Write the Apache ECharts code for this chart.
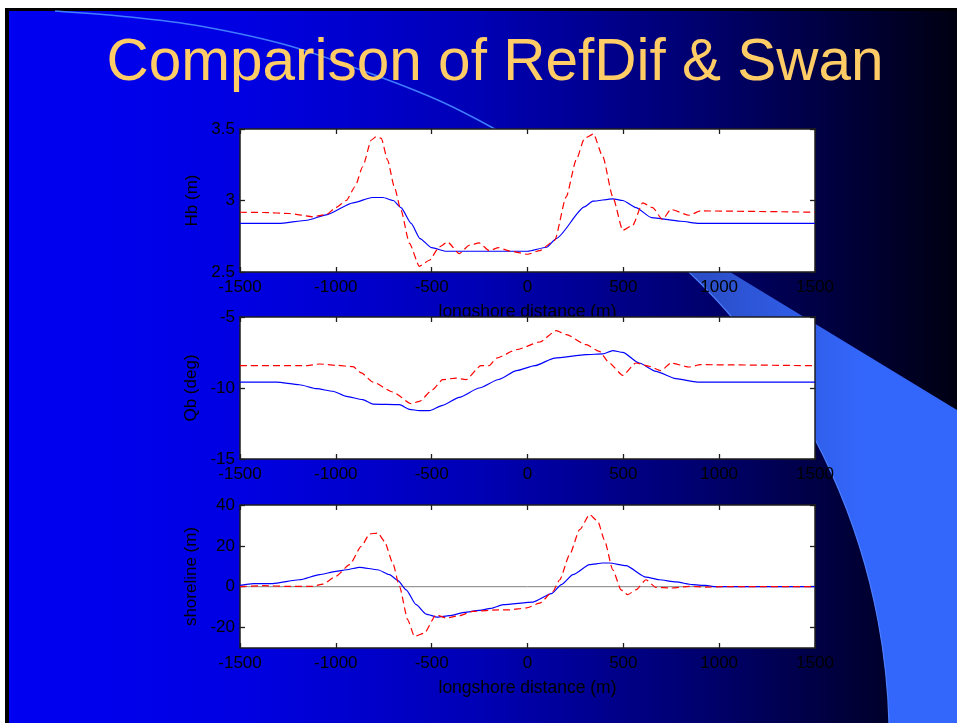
<!DOCTYPE html>
<html>
<head>
<meta charset="utf-8">
<script src="https://cdn.jsdelivr.net/npm/echarts@6/dist/echarts.min.js"></script>
<style>
html,body{margin:0;padding:0;background:#fff;}
#chart{width:957px;height:723px;}
</style>
</head>
<body>
<div id="chart"></div>
<script>
// ---- data ----
const titleText = 'Comparison of RefDif & Swan';
const xTicks = [-1500, -1000, -500, 0, 500, 1000, 1500];
const xLabel = 'longshore distance (m)';
const yNames = ['Hb (m)', 'Qb (deg)', 'shoreline (m)'];

// Hb (m)
const hbSwanX = [-1500, -1300, -1150, -1050, -910, -810, -755, -700, -660, -607, -561, -500, -425, 0, 100, 150, 297, 341, 445, 497, 566, 647, 799, 894, 1500];
const hbSwanY = [2.84, 2.84, 2.862, 2.90, 2.984, 3.021, 3.021, 3.0, 2.95, 2.84, 2.734, 2.67, 2.645, 2.645, 2.673, 2.734, 2.955, 2.995, 3.012, 3.0, 2.95, 2.88, 2.855, 2.84, 2.84];
const hbRefX = [-1500, -1380, -1240, -1120, -1050, -1000, -945, -900, -860, -815, -790, -763, -730, -695, -660, -616, -564, -512, -460, -417, -356, -304, -252, -200, -150, -92, 0, 64, 142, 202, 254, 297, 344, 393, 445, 497, 549, 601, 653, 704, 748, 843, 903, 1500];
const hbRefY = [2.918, 2.916, 2.909, 2.886, 2.902, 2.95, 3.0, 3.096, 3.236, 3.423, 3.446, 3.435, 3.283, 3.096, 2.932, 2.70, 2.54, 2.582, 2.675, 2.71, 2.628, 2.687, 2.703, 2.65, 2.67, 2.647, 2.624, 2.65, 2.722, 3.026, 3.283, 3.435, 3.465, 3.306, 3.026, 2.792, 2.827, 2.984, 2.95, 2.867, 2.937, 2.897, 2.927, 2.918];

// Qb (deg)
const qbSwanX = [-1500, -1310, -1190, -1100, -1015, -945, -860, -807, -668, -616, -564, -512, -443, -356, -252, -150, -57, 38, 142, 306, 393, 445, 497, 583, 670, 774, 886, 1500];
const qbSwanY = [-9.58, -9.58, -9.77, -10.05, -10.23, -10.59, -10.82, -11.13, -11.17, -11.5, -11.6, -11.6, -11.22, -10.66, -10.0, -9.4, -8.78, -8.43, -7.89, -7.65, -7.6, -7.37, -7.49, -8.24, -8.83, -9.34, -9.58, -9.58];
const qbRefX = [-1500, -1150, -1085, -1000, -910, -867, -807, -703, -607, -564, -495, -443, -373, -321, -243, -200, -161, -57, 64, 150, 202, 306, 375, 427, 497, 566, 635, 696, 748, 843, 903, 1500];
const qbRefY = [-8.43, -8.43, -8.31, -8.40, -8.5, -8.94, -9.58, -10.28, -11.1, -10.94, -10.12, -9.41, -9.3, -9.41, -8.43, -8.43, -7.89, -7.3, -6.76, -5.96, -6.24, -6.95, -7.42, -8.24, -9.11, -8.24, -8.47, -8.78, -8.24, -8.52, -8.36, -8.43];

// shoreline (m)
const shSwanX = [-1500, -1430, -1330, -1190, -1085, -1000, -945, -876, -781, -720, -677, -633, -581, -529, -469, -408, -330, -252, -190, -126, 29, 125, 177, 237, 324, 393, 427, 514, 618, 687, 774, 860, 929, 981, 1500];
const shSwanY = [0.65, 1.5, 1.5, 3.4, 5.9, 7.5, 8.3, 9.5, 8.3, 5.9, 3.1, -1.5, -8.8, -13.4, -14.9, -14.2, -12.6, -11.6, -10.6, -8.8, -7.5, -3.4, 1.0, 5.9, 10.8, 11.6, 11.6, 10.3, 4.7, 3.4, 2.4, 1.0, 0.65, 0, 0];
const shRefX = [-1500, -1380, -1260, -1120, -1067, -1000, -928, -867, -824, -781, -746, -703, -668, -625, -590, -538, -477, -425, -356, -287, -150, -92, -5, 64, 133, 168, 220, 272, 324, 367, 401, 445, 488, 523, 566, 618, 670, 748, 843, 929, 1016, 1500];
const shRefY = [0, 0.5, 0.2, 0.2, 1.3, 5.1, 10.8, 19.8, 25.8, 26.3, 22.2, 11.6, 0.2, -16.2, -24.3, -22.7, -13.7, -15.3, -14.2, -12.1, -11.3, -11.3, -10.4, -8.0, -2.3, 3.4, 15.7, 27.9, 35.3, 32.0, 23.0, 8.3, -1.5, -3.9, -1.5, 3.4, -0.3, -0.65, 0.2, -0.2, 0, 0];

const yRanges = [[2.5, 3.5], [-15, -5], [-30, 40]];
const yTickSets = [[2.5, 3, 3.5], [-15, -10, -5], [-20, 0, 20, 40]];
const zeroLineX = [-1500, 1500];
const zeroLineY = [0, 0];

// ---- chart ----
function pairs(xs, ys) { return xs.map((x, i) => [x, ys[i]]); }
const FONT = '"Liberation Sans", Arial, sans-serif';
const frameColor = '#1e1e1e';
const gridTops = [129, 317, 505];
const gridHeights = [143, 142, 143];
const plain = v => String(v);

const grids = [], xAxes = [], yAxes = [];
for (let i = 0; i < 3; i++) {
  grids.push({left: 240, top: gridTops[i], width: 575, height: gridHeights[i], show: true,
    backgroundColor: '#ffffff', borderWidth: 0, z: 1 + 2 * i});
  const az = 2 + 2 * i;
  const tick = {show: true, inside: true, length: 5, lineStyle: {color: frameColor, width: 1.3}, customValues: xTicks};
  const line = {show: true, onZero: false, lineStyle: {color: frameColor, width: 1.5}};
  xAxes.push({type: 'value', gridIndex: i, position: 'bottom', min: -1500, max: 1500, interval: 500, z: az,
    axisLine: line, axisTick: tick,
    axisLabel: {show: true, margin: 7, color: '#000', fontSize: 17, fontFamily: FONT, customValues: xTicks, formatter: plain},
    splitLine: {show: false},
    name: (i === 1) ? '' : xLabel, nameLocation: 'middle', nameGap: 31,
    nameTextStyle: {color: '#000', fontSize: 17.5, fontFamily: FONT}});
  xAxes.push({type: 'value', gridIndex: i, position: 'top', min: -1500, max: 1500, interval: 500, z: az,
    axisLine: line, axisTick: tick, axisLabel: {show: false}, splitLine: {show: false}});
  const ytick = {show: true, inside: true, length: 5, lineStyle: {color: frameColor, width: 1.3}, customValues: yTickSets[i]};
  yAxes.push({type: 'value', gridIndex: i, position: 'left', min: yRanges[i][0], max: yRanges[i][1], z: az,
    axisLine: line, axisTick: ytick,
    axisLabel: {show: true, margin: 5, color: '#000', fontSize: 17, fontFamily: FONT, customValues: yTickSets[i], formatter: plain},
    splitLine: {show: false},
    name: yNames[i], nameLocation: 'middle', nameGap: 37,
    nameTextStyle: {color: '#000', fontSize: 17, fontFamily: FONT}});
  yAxes.push({type: 'value', gridIndex: i, position: 'right', min: yRanges[i][0], max: yRanges[i][1], z: az,
    axisLine: line, axisTick: ytick, axisLabel: {show: false}, splitLine: {show: false}});
}

function swan(i, data) {
  return {type: 'line', name: 'Swan', xAxisIndex: 2 * i, yAxisIndex: 2 * i, data: data, showSymbol: false, symbol: 'none',
    smooth: 0.2, smoothMonotone: 'x', z: 11, lineStyle: {color: '#0000ff', width: 1.2}, animation: false};
}
function ref(i, data) {
  return {type: 'line', name: 'RefDif', xAxisIndex: 2 * i, yAxisIndex: 2 * i, data: data, showSymbol: false, symbol: 'none',
    smooth: 0.2, smoothMonotone: 'x', z: 12, lineStyle: {color: '#ff0000', width: 1.2, type: [7, 4]}, animation: false};
}

const series = [
  swan(0, pairs(hbSwanX, hbSwanY)), ref(0, pairs(hbRefX, hbRefY)),
  swan(1, pairs(qbSwanX, qbSwanY)), ref(1, pairs(qbRefX, qbRefY)),
  {type: 'line', xAxisIndex: 4, yAxisIndex: 4, data: pairs(zeroLineX, zeroLineY), showSymbol: false, symbol: 'none',
    z: 10, lineStyle: {color: '#808080', width: 1}, animation: false},
  swan(2, pairs(shSwanX, shSwanY)), ref(2, pairs(shRefX, shRefY))
];

const G = echarts.graphic;
const bgStops = [
  {offset: 0, color: '#0000f2'}, {offset: 0.25, color: '#0000e2'}, {offset: 0.5, color: '#0000b4'},
  {offset: 0.75, color: '#000068'}, {offset: 1, color: '#000012'}];
const circ = {cx: 241.6, cy: 740.3, r: 647.6};
const graphics = [
  {type: 'rect', z: 0, z2: 0, shape: {x: 5, y: 8, width: 952, height: 715}, style: {fill: '#000'}, silent: true},
  {type: 'rect', z: 0, z2: 1, shape: {x: 9, y: 11, width: 948, height: 712}, silent: true,
    style: {fill: new G.LinearGradient(9, 0, 957, 0, bgStops, true)}},
  {type: 'polygon', z: 0, z2: 2, silent: true,
    shape: {points: [[600, 193], [957, 410], [957, 723], [600, 723]]},
    style: {fill: new G.LinearGradient(690, 0, 860, 0, [
      {offset: 0, color: '#2a4cc4'}, {offset: 1, color: '#3366fa'}], true)}},
  {type: 'circle', z: 0, z2: 3, silent: true, shape: circ,
    style: {fill: new G.LinearGradient(9, 0, 957, 0, bgStops, true)}},
  {type: 'arc', z: 0, z2: 4, silent: true,
    shape: {cx: circ.cx, cy: circ.cy, r: circ.r, startAngle: -0.9, endAngle: 0.05, clockwise: true},
    style: {stroke: '#4d7fff', lineWidth: 1.2, fill: null}},
  {type: 'rect', z: 0, z2: 5, shape: {x: 0, y: 0, width: 5, height: 723}, style: {fill: '#fff'}, silent: true},
  {type: 'rect', z: 0, z2: 5, shape: {x: 5, y: 8, width: 4, height: 715}, style: {fill: '#000'}, silent: true},
  {type: 'polyline', z: 0, z2: 6, silent: true,
    shape: {points: [[55, 11], [130, 17], [200, 26], [290, 46], [380, 77], [440, 101], [493, 128], [520, 145]], smooth: 0.3},
    style: {stroke: '#3f7cff', lineWidth: 1.5, fill: null}},
  {type: 'text', z: 0, z2: 7, silent: true,
    style: {text: titleText, x: 495, y: 64, align: 'center', verticalAlign: 'middle',
      font: '58.5px "Liberation Sans", Arial, sans-serif', fill: '#ffcc66'}}
];

const chart = echarts.init(document.getElementById('chart'), null, {renderer: 'canvas'});
chart.setOption({
  animation: false,
  backgroundColor: '#ffffff',
  graphic: {elements: graphics},
  grid: grids, xAxis: xAxes, yAxis: yAxes, series: series
});
</script>
</body>
</html>
